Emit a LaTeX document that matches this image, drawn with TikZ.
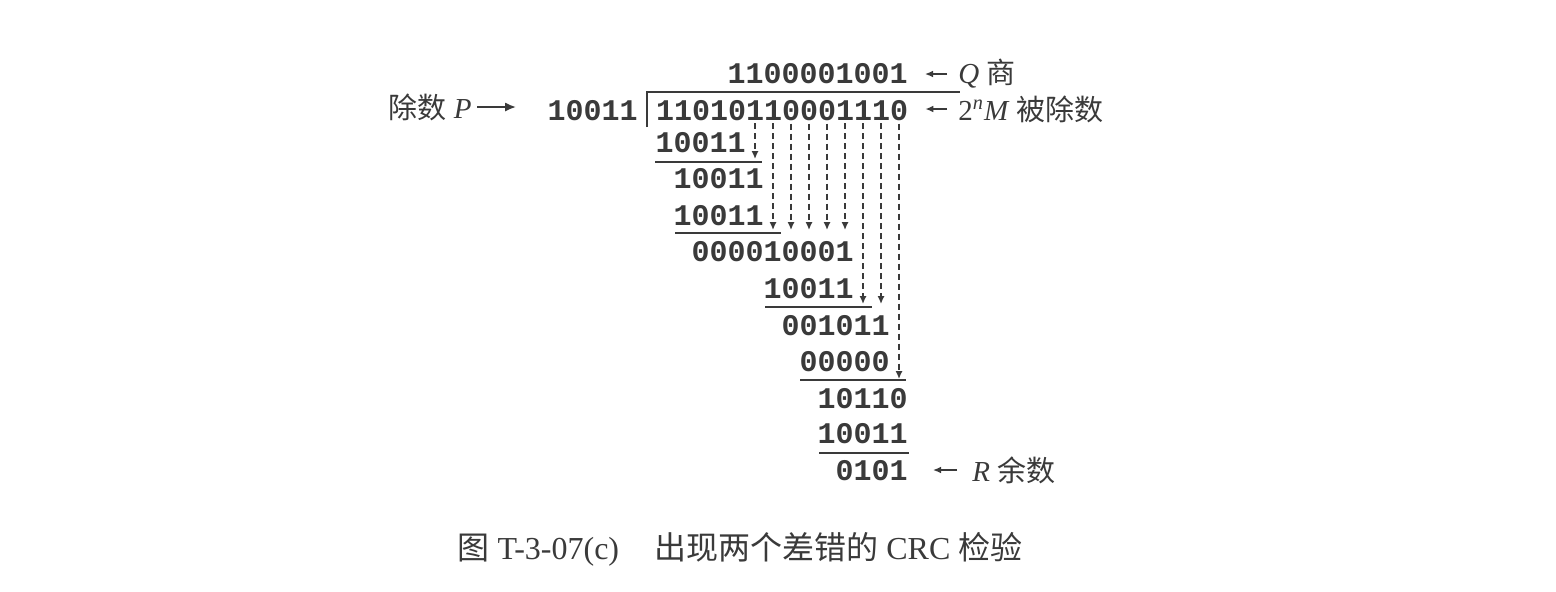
\documentclass[tikz,border=0pt]{standalone}
\usepackage{fontspec}
\setmainfont{Liberation Serif}
\newfontfamily\cjk{Noto Sans CJK SC}
\newfontfamily\bitfont{Liberation Mono}
\usepackage{tikz}
\usetikzlibrary{arrows.meta}
\definecolor{ink}{HTML}{3A3A3A}

\begin{document}
\begin{tikzpicture}[x=0.5pt,y=-0.5pt,
    bits/.style={inner sep=0pt,text=ink,font=\bitfont\bfseries\fontsize{15pt}{18pt}\selectfont},
    lbl/.style={inner sep=0pt,text=ink,font=\fontsize{14.5pt}{17pt}\selectfont},
    rule/.style={draw=ink,line width=1pt},
    bring/.style={draw=ink,line width=1pt,dash pattern=on 3pt off 2pt,-{Latex[length=4pt,width=3.6pt]}},
    ptr/.style={draw=ink,line width=0.7pt,-{Latex[length=4pt,width=3.4pt]}}]
            \fill[white] (0,0) rectangle (1556,591);
            \useasboundingbox (0,0) rectangle (1556,591);
            \node[bits,anchor=east] (quot) at (908,74) {1100001001};
            \node[bits,anchor=east] (dsor) at (638,111) {10011};
            \foreach \b [count=\i from 0] in {1,1,0,1,0,1,1,0,0,0,1,1,1,0}
                \node[bits] (d\i) at (665+18*\i,111) {\b};
            \draw[rule] (647,127)--(647,92)--(960,92);
            \node[bits,anchor=east] (r1) at (746,143) {10011};
            \node[bits,anchor=east] (r2) at (764,179) {10011};
            \node[bits,anchor=east] (r3) at (764,216) {10011};
            \node[bits,anchor=east] (r4) at (854,252) {000010001};
            \node[bits,anchor=east] (r5) at (854,289) {10011};
            \node[bits,anchor=east] (r6) at (890,326) {001011};
            \node[bits,anchor=east] (r7) at (890,362) {00000};
            \node[bits,anchor=east] (r8) at (908,399) {10110};
            \node[bits,anchor=east] (r9) at (908,434) {10011};
            \node[bits,anchor=east] (r10) at (908,471) {0101};
            \draw[rule] (655,162)--(762,162);
            \draw[rule] (675,233)--(781,233);
            \draw[rule] (765,307)--(872,307);
            \draw[rule] (800,380)--(906,380);
            \draw[rule] (819,453)--(909,453);
            \coordinate (s1) at (0,159);
            \coordinate (s3) at (0,230);
            \coordinate (s5) at (0,304);
            \coordinate (s7) at (0,379);
            \foreach \c/\s in {5/1,6/3,7/3,8/3,9/3,10/3,11/5,12/5,13/7}
                \draw[bring] ([yshift=-1pt]d\c.south)--(d\c.south |- s\s);
            \node[lbl,anchor=east] (plab) at (472,107) {{\cjk 除数} \textit{P}};
            \node[lbl,anchor=west] (qlab) at (958,74) {\textit{Q} {\cjk 商}};
            \node[lbl,anchor=west] (mlab) at (958,109) {2\textsuperscript{\textit{n}}\textit{M} {\cjk 被除数}};
            \node[lbl,anchor=west] (rlab) at (972,470) {\textit{R} {\cjk 余数}};
            \draw[ptr,line width=1pt,-{Latex[length=5.5pt,width=4.5pt]},shorten <=2.5pt,shorten >=15.5pt] (plab.east)--(plab.east -| dsor.west);
            \draw[ptr,shorten <=5.5pt,shorten >=8.5pt] (qlab.west)--(qlab.west -| quot.east);
            \draw[ptr,shorten <=5.5pt,shorten >=8.5pt] (mlab.west)--(mlab.west -| d13.east);
            \draw[ptr,shorten <=7.5pt,shorten >=12.5pt] (rlab.west)--(rlab.west -| r10.east);
            \node[lbl,font=\fontsize{16pt}{19pt}\selectfont] (cap) at (740,549) {{\cjk 图} T-3-07(c)\hspace{1.1em}{\cjk 出现两个差错的} CRC {\cjk 检验}};
        \end{tikzpicture}
\end{document}
